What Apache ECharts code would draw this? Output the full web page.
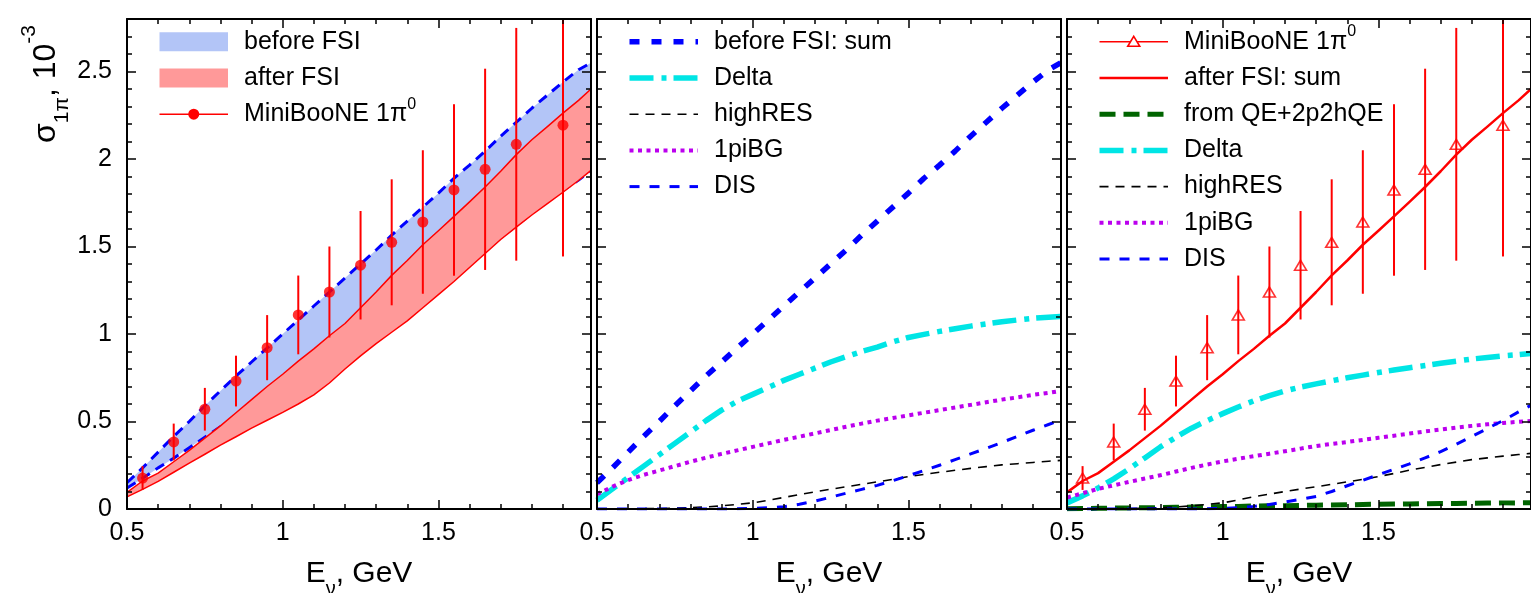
<!DOCTYPE html>
<html>
<head>
<meta charset="utf-8">
<script src="https://cdn.jsdelivr.net/npm/echarts@6/dist/echarts.min.js"></script>
<style>html,body{margin:0;padding:0;background:#fff}#c{width:1531px;height:593px}</style>
</head>
<body>
<div id="c"></div>
<script>
// ---------------- data ----------------
const xCurve = [0.5,0.55,0.6,0.65,0.7,0.75,0.8,0.85,0.9,0.95,1.0,1.05,1.1,1.15,1.2,1.25,1.3,1.35,1.4,1.45,1.5,1.55,1.6,1.65,1.7,1.75,1.8,1.85,1.9,1.95,1.99];

// panel 1 bands / panel 2-3 sums
const beforeSum = [0.15,0.235,0.325,0.415,0.50,0.59,0.675,0.76,0.84,0.92,1.0,1.08,1.16,1.24,1.32,1.40,1.48,1.565,1.645,1.725,1.805,1.89,1.965,2.045,2.13,2.21,2.29,2.365,2.44,2.51,2.55];
const beforeLow = [0.12,0.175,0.235,0.29,0.35,0.41,0.47,0.52,0.57,0.62,0.67,0.72,0.77,0.82,0.87,0.93,0.99,1.05,1.11,1.18,1.25,1.32,1.40,1.47,1.55,1.62,1.69,1.76,1.82,1.88,1.935];
const afterSum  = [0.095,0.16,0.205,0.27,0.335,0.405,0.475,0.55,0.625,0.70,0.77,0.845,0.915,0.99,1.06,1.15,1.24,1.335,1.42,1.51,1.59,1.672,1.755,1.84,1.93,2.025,2.11,2.185,2.262,2.335,2.40];
const afterLow  = [0.069,0.112,0.158,0.21,0.262,0.313,0.365,0.413,0.462,0.507,0.552,0.60,0.652,0.72,0.80,0.875,0.945,1.01,1.075,1.15,1.225,1.30,1.38,1.46,1.54,1.611,1.68,1.745,1.81,1.877,1.935];

// panel 2 (before FSI) components
const delta2 = [0.05,0.115,0.18,0.245,0.31,0.375,0.44,0.505,0.565,0.615,0.655,0.695,0.735,0.77,0.805,0.84,0.87,0.9,0.925,0.955,0.98,0.998,1.015,1.03,1.045,1.058,1.07,1.08,1.09,1.096,1.10];
const bg2    = [0.085,0.128,0.165,0.195,0.22,0.245,0.27,0.293,0.315,0.335,0.355,0.375,0.395,0.413,0.432,0.451,0.47,0.488,0.505,0.52,0.535,0.55,0.565,0.58,0.595,0.61,0.625,0.638,0.652,0.664,0.675];
const hr2    = [0,0,0.001,0.002,0.003,0.005,0.008,0.012,0.018,0.026,0.035,0.05,0.066,0.082,0.098,0.113,0.127,0.141,0.155,0.17,0.185,0.198,0.21,0.221,0.232,0.242,0.252,0.259,0.266,0.273,0.278];
const dis2   = [0,0,0,0,0,0,0,0,0,0.001,0.003,0.007,0.013,0.027,0.045,0.067,0.09,0.112,0.135,0.162,0.19,0.22,0.25,0.282,0.315,0.347,0.38,0.415,0.45,0.483,0.51];

// panel 3 (after FSI) components
const delta3 = [0.035,0.075,0.12,0.172,0.23,0.292,0.355,0.41,0.462,0.505,0.545,0.583,0.618,0.648,0.675,0.697,0.715,0.733,0.75,0.765,0.78,0.794,0.807,0.82,0.833,0.845,0.857,0.866,0.875,0.882,0.888];
const bg3    = [0.065,0.09,0.115,0.135,0.155,0.174,0.193,0.214,0.235,0.254,0.272,0.287,0.302,0.316,0.33,0.345,0.36,0.372,0.383,0.395,0.407,0.419,0.431,0.443,0.454,0.465,0.475,0.484,0.492,0.498,0.503];
const hr3    = [0,0,0.001,0.002,0.003,0.005,0.008,0.012,0.018,0.026,0.035,0.052,0.07,0.085,0.1,0.114,0.127,0.141,0.155,0.17,0.185,0.203,0.222,0.238,0.254,0.268,0.282,0.292,0.302,0.311,0.318];
const dis3   = [0,0,0,0,0,0,0,0,0,0.001,0.003,0.008,0.015,0.026,0.04,0.055,0.072,0.1,0.133,0.164,0.196,0.227,0.258,0.292,0.328,0.37,0.415,0.46,0.505,0.555,0.593];
const qe3    = [0.002,0.003,0.004,0.005,0.006,0.007,0.008,0.01,0.011,0.013,0.014,0.015,0.017,0.018,0.019,0.02,0.022,0.023,0.024,0.026,0.027,0.028,0.029,0.03,0.031,0.032,0.033,0.034,0.035,0.035,0.036];

// MiniBooNE 1pi0 data
const mbX   = [0.55,0.65,0.75,0.85,0.95,1.05,1.15,1.25,1.35,1.45,1.55,1.65,1.75,1.9];
const mbY   = [0.177,0.383,0.570,0.731,0.922,1.109,1.240,1.393,1.524,1.640,1.823,1.941,2.084,2.193];
const mbErr = [0.068,0.105,0.122,0.145,0.186,0.225,0.26,0.31,0.36,0.41,0.49,0.575,0.665,0.75];

// axis ranges
const X_MIN = 0.5, X_MAX = 1.99, X_STEP = 0.5;
const Y_MIN = 0, Y_MAX = 2.8, Y_STEP = 0.5;

// ---------------- style ----------------
const FONT = '"Liberation Sans", Arial, Helvetica, sans-serif';
const GL = [127, 597, 1067], GT = 19, GW = 464, GH = 490;
const C = {
  red: '#ff0000', blue: '#0000ff', cyan: '#00e5e5', mag: '#bb00ee', green: '#006400', black: '#000000',
  blueFill: '#b3c5f7', redFill: '#ff9999'
};
const ST = {
  beforeSumThin: {color: C.blue, width: 3, dash: [10, 7]},
  beforeSum: {color: C.blue, width: 5.5, dash: [10, 12]},
  afterEdge: {color: C.red, width: 1.5, dash: null},
  afterSum: {color: C.red, width: 2.5, dash: null},
  delta: {color: C.cyan, width: 5.5, dash: [24, 8, 5, 7]},
  hr: {color: C.black, width: 1.6, dash: [9, 7]},
  bg: {color: C.mag, width: 4, dash: [4, 4.5]},
  dis: {color: C.blue, width: 3, dash: [10, 10]},
  qe: {color: C.green, width: 5, dash: [16, 8]}
};

const chart = echarts.init(document.getElementById('c'), null, {renderer: 'canvas', width: 1531, height: 593});

const grids = GL.map(l => ({left: l, top: GT, width: GW, height: GH, show: false, containLabel: false, outerBoundsMode: 'none'}));

function xAx(gi, top) {
  return {
    type: 'value', gridIndex: gi, position: top ? 'top' : 'bottom', min: X_MIN, max: X_MAX, interval: X_STEP, z: 10,
    axisLine: {show: true, onZero: false, lineStyle: {color: '#000', width: 2}},
    axisTick: {show: true, inside: true, length: 9, lineStyle: {color: '#000', width: 1.5}},
    minorTick: {show: true, splitNumber: 5, length: 5, lineStyle: {color: '#000', width: 1.5}},
    axisLabel: {show: !top, fontSize: 25, color: '#000', fontFamily: FONT, margin: 12, showMaxLabel: false},
    splitLine: {show: false}, minorSplitLine: {show: false}
  };
}
function yAx(gi, right) {
  return {
    type: 'value', gridIndex: gi, position: right ? 'right' : 'left', min: Y_MIN, max: Y_MAX, interval: Y_STEP, z: 10,
    axisLine: {show: true, onZero: false, lineStyle: {color: '#000', width: 2}},
    axisTick: {show: true, inside: true, length: 9, lineStyle: {color: '#000', width: 1.5}},
    minorTick: {show: true, splitNumber: 5, length: 5, lineStyle: {color: '#000', width: 1.5}},
    axisLabel: {show: (!right && gi === 0), fontSize: 25, color: '#000', fontFamily: FONT, margin: 15, showMaxLabel: false},
    splitLine: {show: false}, minorSplitLine: {show: false}
  };
}
const xAxes = [], yAxes = [];
for (let g = 0; g < 3; g++) { xAxes.push(xAx(g, false), xAx(g, true)); yAxes.push(yAx(g, false), yAx(g, true)); }

function lineS(gi, arr, st, z) {
  return {
    type: 'line', xAxisIndex: gi * 2, yAxisIndex: gi * 2, z: z, silent: true, animation: false,
    data: xCurve.map((x, i) => [x, arr[i]]), showSymbol: false, symbol: 'none', clip: true,
    lineStyle: {color: st.color, width: st.width, type: st.dash || 'solid', cap: 'butt', join: 'round'}
  };
}
function bandS(gi, lo, hi, fill, z) {
  return {
    type: 'custom', xAxisIndex: gi * 2, yAxisIndex: gi * 2, z: z, silent: true, animation: false,
    data: xCurve.map((x, i) => [x, lo[i], hi[i]]), encode: {x: 0, y: [1, 2]},
    renderItem(params, api) {
      if (params.dataIndex !== 0) return null;
      const pts = [];
      for (let i = 0; i < xCurve.length; i++) pts.push(api.coord([xCurve[i], hi[i]]));
      for (let i = xCurve.length - 1; i >= 0; i--) pts.push(api.coord([xCurve[i], lo[i]]));
      return {type: 'polygon', shape: {points: pts}, style: {fill: fill, stroke: null}};
    }
  };
}
function errS(gi, z) {
  return {
    type: 'custom', xAxisIndex: gi * 2, yAxisIndex: gi * 2, z: z, silent: true, animation: false,
    data: mbX.map((x, i) => [x, mbY[i], mbErr[i]]), encode: {x: 0, y: 1},
    renderItem(params, api) {
      const x = api.value(0), y = api.value(1), e = api.value(2);
      const lo = api.coord([x, y - e]), hi = api.coord([x, y + e]);
      const top = Math.max(hi[1], params.coordSys.y);
      return {type: 'line', shape: {x1: lo[0], y1: lo[1], x2: hi[0], y2: top}, style: {stroke: C.red, lineWidth: 2}};
    }
  };
}
function ptS(gi, kind, z) {
  return {
    type: 'scatter', xAxisIndex: gi * 2, yAxisIndex: gi * 2, z: z, silent: true, animation: false,
    data: mbX.map((x, i) => [x, mbY[i]]),
    symbol: kind === 'tri' ? 'triangle' : 'circle',
    symbolSize: kind === 'tri' ? [12, 10] : 11,
    itemStyle: kind === 'tri' ? {color: 'rgba(255,255,255,0)', borderColor: C.red, borderWidth: 1.6} : {color: C.red}
  };
}

const series = [
  // panel 1
  bandS(0, beforeLow, beforeSum, C.blueFill, 1),
  lineS(0, beforeSum, ST.beforeSumThin, 2),
  lineS(0, beforeLow, ST.beforeSumThin, 2),
  bandS(0, afterLow, afterSum, C.redFill, 3),
  lineS(0, afterSum, ST.afterEdge, 4),
  lineS(0, afterLow, ST.afterEdge, 4),
  errS(0, 5),
  ptS(0, 'dot', 6),
  // panel 2
  lineS(1, beforeSum, ST.beforeSum, 2),
  lineS(1, delta2, ST.delta, 3),
  lineS(1, hr2, ST.hr, 4),
  lineS(1, bg2, ST.bg, 5),
  lineS(1, dis2, ST.dis, 6),
  // panel 3
  errS(2, 2),
  ptS(2, 'tri', 3),
  lineS(2, afterSum, ST.afterSum, 4),
  lineS(2, qe3, ST.qe, 5),
  lineS(2, delta3, ST.delta, 6),
  lineS(2, hr3, ST.hr, 7),
  lineS(2, bg3, ST.bg, 8),
  lineS(2, dis3, ST.dis, 9)
];

// ---------------- legends & titles (graphic) ----------------
const ROW0 = 41.8, ROWSTEP = 36.2, ICON_X0 = 32.5, ICON_W = 68.5, TEXT_DX = 117;
const richSup = {
  m: {fontSize: 25, fontFamily: FONT, lineHeight: 36, fill: '#000'},
  p: {fontSize: 16, fontFamily: FONT, verticalAlign: 'top', fill: '#000'}
};
function legend(gi, entries) {
  const out = [];
  const gx = GL[gi];
  entries.forEach((en, k) => {
    const y = ROW0 + ROWSTEP * k;
    const x0 = gx + ICON_X0, x1 = x0 + ICON_W;
    if (en.rect) {
      out.push({type: 'rect', z: 50, shape: {x: x0, y: y - 9.5, width: ICON_W, height: 19}, style: {fill: en.rect}});
    } else {
      out.push({type: 'line', z: 50, shape: {x1: x0, y1: y, x2: x1, y2: y},
        style: {stroke: en.st.color, lineWidth: en.st.width, lineDash: en.st.dash || null, lineCap: 'butt'}});
      const cx = (x0 + x1) / 2;
      if (en.marker === 'circle') out.push({type: 'circle', z: 51, shape: {cx: cx, cy: y, r: 5.5}, style: {fill: C.red}});
      if (en.marker === 'tri') out.push({type: 'polygon', z: 51, shape: {points: [[cx, y - 5.5], [cx + 6, y + 4.5], [cx - 6, y + 4.5]]},
        style: {fill: '#fff', stroke: C.red, lineWidth: 1.6}});
    }
    out.push({type: 'text', z: 52, x: gx + TEXT_DX, y: y,
      style: {text: en.text, fill: '#000', font: '25px ' + FONT, fontSize: 25, fontFamily: FONT,
        align: 'left', verticalAlign: 'middle', textAlign: 'left', textVerticalAlign: 'middle', rich: richSup}});
  });
  return out;
}
const graphics = [].concat(
  legend(0, [
    {rect: C.blueFill, text: 'before FSI'},
    {rect: C.redFill, text: 'after FSI'},
    {st: {color: C.red, width: 1.6}, marker: 'circle', text: '{m|MiniBooNE 1π}{p|0}'}
  ]),
  legend(1, [
    {st: ST.beforeSum, text: 'before FSI: sum'},
    {st: ST.delta, text: 'Delta'},
    {st: ST.hr, text: 'highRES'},
    {st: ST.bg, text: '1piBG'},
    {st: ST.dis, text: 'DIS'}
  ]),
  legend(2, [
    {st: {color: C.red, width: 1.6}, marker: 'tri', text: '{m|MiniBooNE 1π}{p|0}'},
    {st: ST.afterSum, text: 'after FSI: sum'},
    {st: ST.qe, text: 'from QE+2p2hQE'},
    {st: ST.delta, text: 'Delta'},
    {st: ST.hr, text: 'highRES'},
    {st: ST.bg, text: '1piBG'},
    {st: ST.dis, text: 'DIS'}
  ])
);
// x-axis titles
GL.forEach(gx => {
  graphics.push({type: 'text', z: 52, x: gx + GW / 2, y: 574,
    style: {text: '{m|E}{s|ν}{m|, GeV}', align: 'center', verticalAlign: 'middle', textAlign: 'center', textVerticalAlign: 'middle',
      rich: {m: {fontSize: 30, fontFamily: FONT, lineHeight: 50, fill: '#000'},
             s: {fontSize: 20, fontFamily: FONT, verticalAlign: 'bottom', fill: '#000'}}}});
});
// y-axis title
graphics.push({type: 'text', z: 52, x: 46, y: 84, rotation: Math.PI / 2,
  style: {text: '{m|σ}{s|1π}{m|, 10}{p|-3}', align: 'center', verticalAlign: 'middle', textAlign: 'center', textVerticalAlign: 'middle',
    rich: {m: {fontSize: 32, fontFamily: FONT, lineHeight: 54, fill: '#000'},
           s: {fontSize: 21, fontFamily: FONT, verticalAlign: 'bottom', fill: '#000'},
           p: {fontSize: 21, fontFamily: FONT, verticalAlign: 'top', fill: '#000'}}}});

chart.setOption({
  animation: false,
  backgroundColor: '#ffffff',
  textStyle: {fontFamily: FONT},
  grid: grids,
  xAxis: xAxes,
  yAxis: yAxes,
  series: series,
  graphic: {elements: graphics}
});
</script>
</body>
</html>
